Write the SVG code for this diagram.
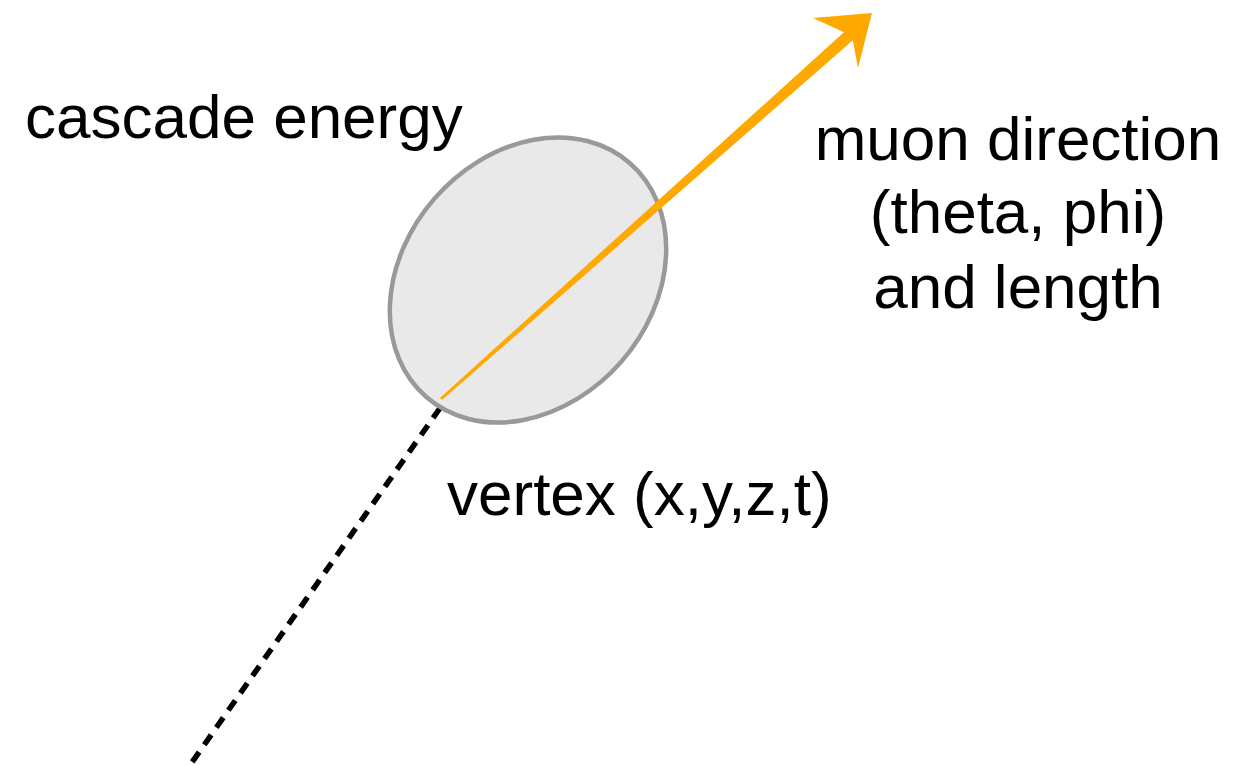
<svg xmlns="http://www.w3.org/2000/svg" width="1255" height="766" viewBox="0 0 1255 766">
<style>
.lbl{font-family:"Liberation Sans",Arial,sans-serif;font-size:62px;fill:#000;}
.mid{text-anchor:middle;}
.trk{fill:#FFA800;}
</style>
<rect width="1255" height="766" fill="#fff"/>
<g id="connectors">
<line id="incoming" x1="440" y1="408" x2="188" y2="768" stroke="#000" stroke-width="5.5" stroke-dasharray="12 9"/>
</g>
<g id="cascade">
<ellipse cx="528" cy="280" rx="155" ry="124" transform="rotate(-49 528 280)" fill="#E9E9E9" stroke="#999" stroke-width="4.5"/>
</g>
<g id="muon">
<polygon class="trk" points="442,400 856,37.5 848,28.5 440,398"/>
<polygon class="trk" points="813,18 872,13 858,68 852,36"/>
</g>
<g id="label-energy"><text class="lbl" x="25" y="138">cascade energy</text></g>
<g id="label-direction">
<text class="lbl mid" x="1018" y="160">muon direction</text>
<text class="lbl mid" x="1018" y="233">(theta, phi)</text>
<text class="lbl mid" x="1018" y="308">and length</text>
</g>
<g id="label-vertex"><text class="lbl" x="447" y="515">vertex (x,y,z,t)</text></g>
</svg>
